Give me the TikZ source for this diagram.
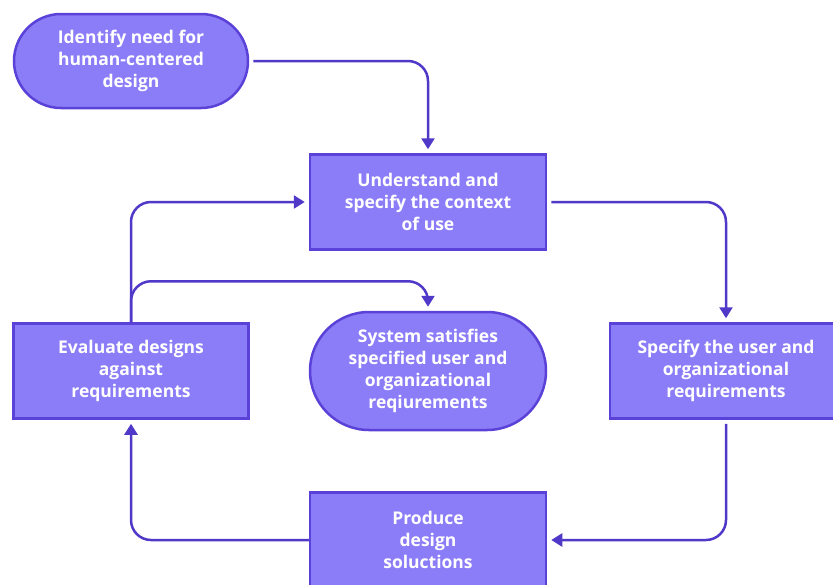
\documentclass[tikz,border=0pt]{standalone}
\usepackage{fontspec}
\setmainfont{Open Sans}
\usetikzlibrary{shapes.misc,arrows.meta}
\definecolor{boxfill}{HTML}{8B7DF7}
\definecolor{boxline}{HTML}{5A42D8}
\definecolor{arrowc}{HTML}{5038C8}
\begin{document}
\begin{tikzpicture}[x=1pt,y=-1pt,
  base/.style={fill=boxfill,draw=boxline,line width=2.5pt,text=white,
    font=\bfseries\fontsize{17.5}{22}\selectfont,align=center,inner sep=0pt},
  rbox/.style={base,rectangle,minimum width=236pt,minimum height=95pt},
  pill/.style={base,rounded rectangle,minimum width=234pt,minimum height=94pt},
  conn/.style={draw=arrowc,line width=2.5pt,rounded corners=20pt,
    -{Triangle[length=11pt,width=13pt]},shorten >=4pt}]
\clip (0,0) rectangle (833,584);
\fill[white] (0,0) rectangle (833,584);
\node[pill] (iden) at (131,61) {Identify need for\\human-centered\\design};
\node[rbox] (und) at (428,202) {Understand and\\specify the context\\of use};
\node[rbox,minimum width=235pt] (eval) at (131,371) {Evaluate designs\\against\\requirements};
\node[pill,minimum width=236pt,minimum height=118pt] (sys) at (428,371) {System satisfies\\specified user and\\organizational\\reqiurements};
\node[rbox,minimum width=232pt] (spec) at (726,371) {Specify the user and\\organizational\\requirements};
\node[rbox] (prod) at (428,540) {Produce\\design\\soluctions};
\draw[conn,shorten <=4pt] (iden.east) -| (und.north);
\draw[conn] (eval.north) |- (und.west);
\draw[conn] (eval.north) -- ++(0,-41) -| (sys.north);
\draw[conn,shorten <=4pt] (und.east) -| (spec.north);
\draw[conn,shorten <=4pt] (spec.south) |- (prod.east);
\draw[conn] (prod.west) -| (eval.south);
\end{tikzpicture}
\end{document}
